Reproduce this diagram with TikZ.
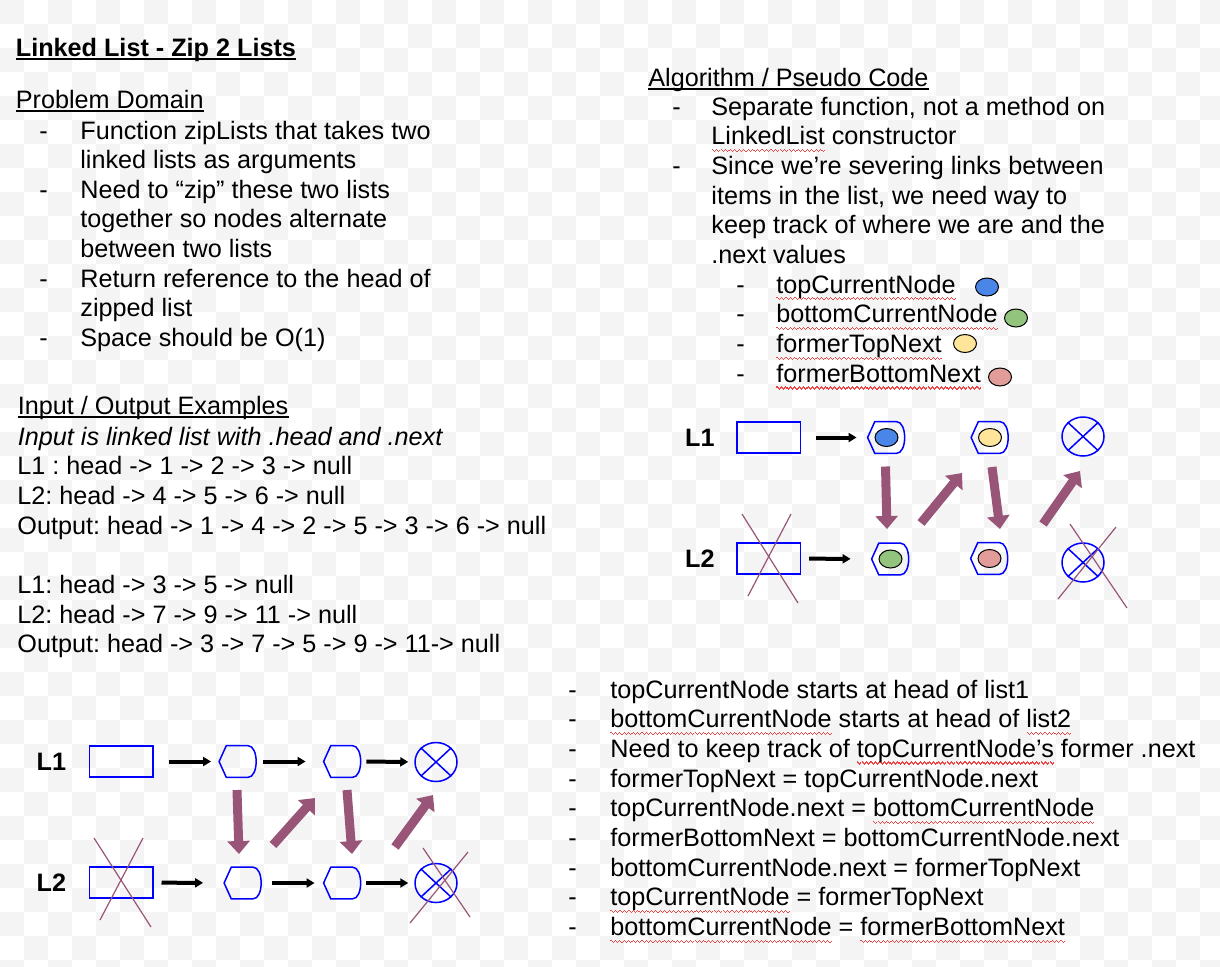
\documentclass[tikz,border=0pt]{standalone}
\usepackage{fontspec}
\setmainfont{Liberation Sans}
\usepackage{tikz}
\usetikzlibrary{positioning, arrows.meta, shapes.geometric}
\definecolor{nodeBlue}{HTML}{0000FF}
\definecolor{zipPlum}{HTML}{985578}
\definecolor{checkGray}{HTML}{F4F4F4}
\definecolor{spellRed}{HTML}{EE4444}
\definecolor{dotBlue}{HTML}{4A86E8}
\definecolor{dotGreen}{HTML}{93C47D}
\definecolor{dotYellow}{HTML}{FFE599}
\definecolor{dotPink}{HTML}{E29C99}

% red wavy line under unknown words (small rules, no glyphs)
\newcommand{\wv}[1]{\vrule height -\dimexpr#1pt-0.6pt\relax depth #1pt width 0.55pt}
\newcommand{\sq}[1]{\setbox0\hbox{#1}\rlap{\color{spellRed}\hbox to\wd0{%
  \xleaders\hbox{\wv{2.6}\wv{3.1}\wv{3.6}\wv{3.1}}\hfil}}\box0\relax}

% list element: pointed left side, rounded right side
\newcommand{\listnode}[3]{%
  \node[listbox] (#1) at (#2,#3) {};
  \draw[nodeline] ([xshift=3.6pt]#1.north west) -- ([xshift=-4.5pt]#1.north east)
    .. controls ([xshift=1pt]#1.north east) and ([xshift=1pt]#1.south east) .. ([xshift=-4.5pt]#1.south east)
    -- ([xshift=3.6pt]#1.south west) -- (#1.west) -- cycle;
}
% null element: crossed circle
\newcommand{\nullnode}[3]{%
  \node[nullbox] (#1) at (#2,#3) {};
  \draw[nodeline] (#1.north west) -- (#1.south east) (#1.north east) -- (#1.south west);
}

\begin{document}
\begin{tikzpicture}[x=0.5pt,y=-0.5pt]
  \tikzset{txt/.style={anchor=base west,inner sep=0pt,font=\fontsize{12.6}{15}\selectfont\frenchspacing},
    lbl/.style={inner sep=0pt,font=\fontsize{12.6}{15}\selectfont\bfseries},
    headbox/.style={draw=nodeBlue,line width=0.75pt,minimum width=31.75pt,minimum height=15.5pt,inner sep=0pt},
    listbox/.style={inner sep=0pt,minimum width=18.5pt,minimum height=15.5pt},
    nodeline/.style={draw=nodeBlue,line width=0.75pt},
    nullbox/.style={ellipse,draw=nodeBlue,line width=0.75pt,minimum width=21pt,minimum height=19.5pt,inner sep=0pt},
    dot/.style={ellipse,draw=black,line width=0.5pt,minimum width=11.5pt,minimum height=9pt,inner sep=0pt},
    link/.style={line width=2pt,-{Triangle[length=4pt,width=4.5pt]}},
    zip/.style={draw=zipPlum,line width=4.5pt,-{Triangle[length=6.5pt,width=11pt]}},
    strike/.style={draw=zipPlum,line width=0.6pt}}
  \useasboundingbox (0,0) rectangle (1220,966);

  % checker background
  \fill[white] (0,0) rectangle (1220,966);
  \begin{scope}
    \clip (0,0) rectangle (1220,966);
    \foreach \i in {0,48,...,1200}
      \foreach \j in {0,48,...,960}
        {\fill[checkGray] (\i,\j) rectangle ++(24,24);
         \fill[checkGray] (\i+24,\j+24) rectangle ++(24,24);}
  \end{scope}

  % problem domain
  \node[txt,font=\fontsize{12.6}{15}\selectfont\bfseries] (title) at (15.5,56) {Linked List - Zip 2 Lists};
  \draw[line width=1pt] ([yshift=-1.3pt]title.base west) -- ([yshift=-1.3pt]title.base east);
  \node[txt] (pd) at (15.5,108) {Problem Domain};
  \draw[line width=0.75pt] ([yshift=-1.5pt]pd.base west) -- ([yshift=-1.5pt]pd.base east);
  \foreach \row [count=\i] in {{Function zipLists that takes two},{linked lists as arguments},
      {Need to “zip” these two lists},{together so nodes alternate},{between two lists},
      {Return reference to the head of},{zipped list},{Space should be O(1)}}
    \node[txt] (pd\i) at (80,{139+29.6*(\i-1)}) {\row};
  \foreach \k/\n in {0/a,2/b,5/c,7/d}
    \node[txt] (pdash\n) at (39,{139+29.6*\k}) {-};

  % examples
  \node[txt] (io) at (17.5,414) {Input / Output Examples};
  \draw[line width=0.75pt] ([yshift=-1.5pt]io.base west) -- ([yshift=-1.5pt]io.base east);
  \node[txt,font=\fontsize{12.6}{15}\selectfont\itshape] (ioa) at (17.5,445) {Input is linked list with .head and .next};
  \foreach \row [count=\i] in {{L1 : head -> 1 -> 2 -> 3 -> null},{L2: head -> 4 -> 5 -> 6 -> null},
      {Output: head -> 1 -> 4 -> 2 -> 5 -> 3 -> 6 -> null},{},{L1: head -> 3 -> 5 -> null},
      {L2: head -> 7 -> 9 -> 11 -> null},{Output: head -> 3 -> 7 -> 5 -> 9 -> 11-> null}}
    \node[txt] (ex\i) at (17,{445+29.7*\i}) {\row};

  % algorithm
  \node[txt] (alg) at (648,86) {Algorithm / Pseudo Code};
  \draw[line width=0.75pt] ([yshift=-1.5pt]alg.base west) -- ([yshift=-1.5pt]alg.base east);
  \foreach \row [count=\i] in {{Separate function, not a method on},{\sq{LinkedList} constructor},
      {Since we’re severing links between},{items in the list, we need way to},
      {keep track of where we are and the},{.next values}}
    \node[txt] (al\i) at (711,{115+29.7*(\i-1)}) {\row};
  \foreach \k/\n in {0/a,2/b}
    \node[txt] (aldash\n) at (672,{115+29.7*\k}) {-};
  \foreach \row [count=\i] in {{\sq{topCurrentNode}},{\sq{bottomCurrentNode}},{\sq{formerTopNext}},{\sq{formerBottomNext}}}
    {\node[txt] (var\i) at (776,{293.2+29.7*(\i-1)}) {\row};
     \node[txt] (vardash\i) at (736,{293.2+29.7*(\i-1)}) {-};}
  \node[dot,fill=dotBlue] (vdot1) at (987,287) {};
  \node[dot,fill=dotGreen] (vdot2) at (1016,318) {};
  \node[dot,fill=dotYellow] (vdot3) at (965,343.5) {};
  \node[dot,fill=dotPink] (vdot4) at (1000,377) {};

  % first step of the zip
  \node[headbox] (h1) at (768.5,437.5) {};
  \node[headbox] (h2) at (768.5,558.5) {};
  \node[lbl,left=10.5pt of h1] (h1l) {L1};
  \node[lbl,left=10.5pt of h2] (h2l) {L2};
  \listnode{t1}{886.5}{437.5}
  \listnode{t2}{990}{437.5}
  \nullnode{tn}{1083}{436.5}
  \listnode{b1}{890.5}{559}
  \listnode{b2}{989.5}{558.5}
  \nullnode{bn}{1083}{562.5}
  \node[dot,fill=dotBlue] (t1dot) at (t1) {};
  \node[dot,fill=dotYellow] (t2dot) at (t2) {};
  \node[dot,fill=dotGreen] (b1dot) at (b1) {};
  \node[dot,fill=dotPink] (b2dot) at (b2) {};
  \draw[link,shorten <=7.5pt,shorten >=5.5pt] (h1) -- (t1);
  \draw[link,shorten <=4pt,shorten >=10.5pt] (h2) -- (b1);
  \draw[zip] ([shift={(-1,29)}]t1.center) -- ([shift={(-3.5,-30)}]b1.center);
  \draw[zip] ([shift={(30.5,-36)}]b1.center) -- ([shift={(-28,35.5)}]t2.center);
  \draw[zip] ([shift={(2,29.5)}]t2.center) -- ([shift={(10.5,-29.5)}]b2.center);
  \draw[zip] ([shift={(53.5,-34.5)}]b2.center) -- ([shift={(-3,34.5)}]tn.center);
  \draw[strike] ([shift={(-26.5,-44.5)}]h2.center) -- ([shift={(29.5,44.5)}]h2.center)
    ([shift={(22.5,-44.5)}]h2.center) -- ([shift={(-20.5,37.5)}]h2.center);
  \draw[strike] ([shift={(-13,-38.5)}]bn.center) -- ([shift={(44,45.5)}]bn.center)
    ([shift={(33,-35.5)}]bn.center) -- ([shift={(-25,36.5)}]bn.center);

  % whole zip
  \node[headbox] (r1) at (121,761.5) {};
  \node[headbox] (r2) at (121,882.5) {};
  \node[lbl,left=11pt of r1] (r1l) {L1};
  \node[lbl,left=11pt of r2] (r2l) {L2};
  \listnode{u1}{238}{761.5}
  \listnode{u2}{342.5}{761.5}
  \nullnode{un}{436}{762}
  \listnode{d1}{243}{883}
  \listnode{d2}{342.5}{883}
  \nullnode{dn}{436}{883}
  \draw[link,shorten <=7.5pt,shorten >=4pt] (r1) -- (u1);
  \draw[link,shorten <=3pt,shorten >=9pt] (u1) -- (u2);
  \draw[link,shorten <=2.5pt,shorten >=3pt] (u2) -- (un);
  \draw[link,shorten <=4pt,shorten >=10.5pt] (r2) -- (d1);
  \draw[link,shorten <=5pt,shorten >=4.5pt] (d1) -- (d2);
  \draw[link,shorten <=2.5pt,shorten >=3pt] (d2) -- (dn);
  \draw[zip] ([shift={(-1,28.5)}]u1.center) -- ([shift={(-4,-29)}]d1.center);
  \draw[zip] ([shift={(30,-38)}]d1.center) -- ([shift={(-27.5,36.5)}]u2.center);
  \draw[zip] ([shift={(4.5,28.5)}]u2.center) -- ([shift={(9.5,-29)}]d2.center);
  \draw[zip] ([shift={(52.5,-36)}]d2.center) -- ([shift={(-3,33)}]un.center);
  \draw[strike] ([shift={(-27,-44.5)}]r2.center) -- ([shift={(30,44.5)}]r2.center)
    ([shift={(22,-44.5)}]r2.center) -- ([shift={(-21,37.5)}]r2.center);
  \draw[strike] ([shift={(-13,-35)}]dn.center) -- ([shift={(34,34)}]dn.center)
    ([shift={(32,-31)}]dn.center) -- ([shift={(-26,40)}]dn.center);

  % steps
  \foreach \row [count=\i] in {{topCurrentNode starts at head of list1},
      {\sq{bottomCurrentNode} starts at head of \sq{list2}},
      {Need to keep track of \sq{topCurrentNode’s} former .next},
      {formerTopNext = topCurrentNode.next},
      {topCurrentNode.next = \sq{bottomCurrentNode}},
      {formerBottomNext = bottomCurrentNode.next},
      {bottomCurrentNode.next = formerTopNext},
      {\sq{topCurrentNode} = formerTopNext},
      {\sq{bottomCurrentNode} = \sq{formerBottomNext}}}
    {\node[txt] (st\i) at (610,{698+29.7*(\i-1)}) {\row};
     \node[txt] (stdash\i) at (568,{698+29.7*(\i-1)}) {-};}
\end{tikzpicture}
\end{document}
